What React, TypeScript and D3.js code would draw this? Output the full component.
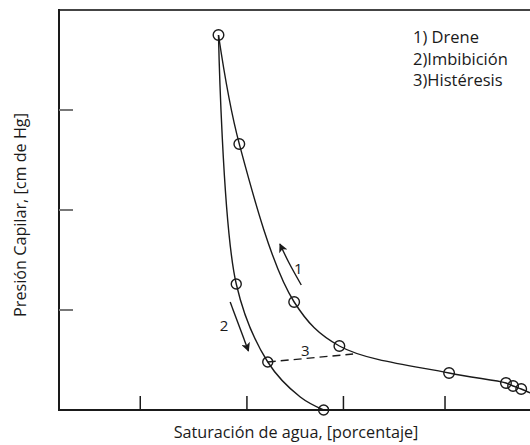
import React from 'react';
import * as d3 from 'd3';

// Drainage curve (1)
const dreneSat = [35.4, 39.5, 50.3, 59.2, 80.8, 92.0, 93.4, 95.0, 96.8];
const drenePc = [3.75, 2.66, 1.08, 0.64, 0.37, 0.27, 0.24, 0.21, 0.17];
const dreneMarker = [true, true, true, true, true, true, true, true, false];

// Imbibition curve (2)
const imbSat = [35.4, 38.9, 45.1, 51.5, 56.1];
const imbPc = [3.75, 1.26, 0.48, 0.13, 0.0];
const imbMarker = [false, true, true, false, true];

// Hysteresis (3) dashed segment
const histSat = [45.1, 61.9];
const histPc = [0.48, 0.56];

// Arrows
const arrow1Sat = [51.7, 49.3, 47.5];
const arrow1Pc = [1.25, 1.47, 1.66];
const arrow2Sat = [37.7, 41.3];
const arrow2Pc = [1.08, 0.59];

const xTicks = [20, 41, 60, 80];
const yTicks = [1, 2, 3];
const legend = ['1) Drene', '2)Imbibición', '3)Histéresis'];

const width = 530;
const height = 445;
const font = "'Open Sans', 'Noto Sans', sans-serif";

const App: React.FC = () => {
    const x = d3.scaleLinear().domain([4, 100]).range([59, 546.6]);
    const y = d3.scaleLinear().domain([0, 4]).range([410, 10]);

    const zip = (xs: number[], ys: number[]) => xs.map((v, i) => [v, ys[i]] as [number, number]);

    const line = d3.line<[number, number]>()
        .x(d => x(d[0]))
        .y(d => y(d[1]))
        .curve(d3.curveCatmullRom.alpha(0.5));
    const straight = d3.line<[number, number]>()
        .x(d => x(d[0]))
        .y(d => y(d[1]));

    const drene = zip(dreneSat, drenePc);
    const imb = zip(imbSat, imbPc);
    const ink = '#1a1a1a';

    return (
        <svg width={width} height={height} style={{position: 'absolute', left: 0, top: 0}}>
            <defs>
                <marker id="head" viewBox="0 0 10 10" refX="9" refY="5" markerWidth="11" markerHeight="9"
                        markerUnits="userSpaceOnUse" orient="auto">
                    <path d="M0,0 L10,5 L0,10 L2.5,5 z" fill={ink}/>
                </marker>
            </defs>
            {/* frame */}
            <line x1={x(4)} x2={width} y1={y(4)} y2={y(4)} stroke="#444" strokeWidth={2}/>
            <line x1={x(4)} x2={x(4)} y1={y(4) - 1} y2={y(0) + 1} stroke={ink} strokeWidth={2}/>
            <line x1={x(4) - 1} x2={width} y1={y(0)} y2={y(0)} stroke={ink} strokeWidth={2}/>
            {yTicks.map(t => (
                <line key={t} x1={x(4)} x2={x(4) + 14} y1={y(t)} y2={y(t)} stroke="#777" strokeWidth={2}/>
            ))}
            {xTicks.map(t => (
                <line key={t} x1={x(t)} x2={x(t)} y1={y(0)} y2={y(0) - 14} stroke={ink} strokeWidth={1.5}/>
            ))}

            {/* curves */}
            <path d={line(drene) || ''} fill="none" stroke={ink} strokeWidth={1.4}/>
            <path d={line(imb) || ''} fill="none" stroke={ink} strokeWidth={1.4}/>
            <path d={straight(zip(histSat, histPc)) || ''} fill="none" stroke={ink} strokeWidth={1.4}
                  strokeDasharray="8,5"/>

            {drene.filter((_, i) => dreneMarker[i]).map((d, i) => (
                <circle key={'d' + i} cx={x(d[0])} cy={y(d[1])} r={5.3} fill="none" stroke={ink} strokeWidth={1.4}/>
            ))}
            {imb.filter((_, i) => imbMarker[i]).map((d, i) => (
                <circle key={'i' + i} cx={x(d[0])} cy={y(d[1])} r={5} fill="none" stroke={ink} strokeWidth={1.4}/>
            ))}

            {/* arrows */}
            <path d={d3.line<[number, number]>().x(d => x(d[0])).y(d => y(d[1])).curve(d3.curveNatural)(zip(arrow1Sat, arrow1Pc)) || ''}
                  fill="none" stroke={ink} strokeWidth={1.4} markerEnd="url(#head)"/>
            <path d={straight(zip(arrow2Sat, arrow2Pc)) || ''} fill="none" stroke={ink} strokeWidth={1.4}
                  markerEnd="url(#head)"/>

            <g fontFamily={font} fontSize={15} fill={ink} textAnchor="middle" dominantBaseline="central">
                <text x={x(51.1)} y={y(1.42)}>1</text>
                <text x={x(36.5)} y={y(0.85)}>2</text>
                <text x={x(52.5)} y={y(0.6)}>3</text>
            </g>

            <g fontFamily={font} fontSize={16.5} fill={ink}>
                {legend.map((t, i) => (
                    <text key={t} x={413} y={43 + i * 21.5}>{t}</text>
                ))}
            </g>

            <text x={296} y={438} textAnchor="middle" fontFamily={font} fontSize={16.2} fill={ink}>
                Saturación de agua, [porcentaje]
            </text>
            <text transform={`translate(26,${215}) rotate(-90)`} textAnchor="middle" fontFamily={font}
                  fontSize={16.2} fill={ink}>
                Presión Capilar, [cm de Hg]
            </text>
        </svg>
    );
};

export default App;
